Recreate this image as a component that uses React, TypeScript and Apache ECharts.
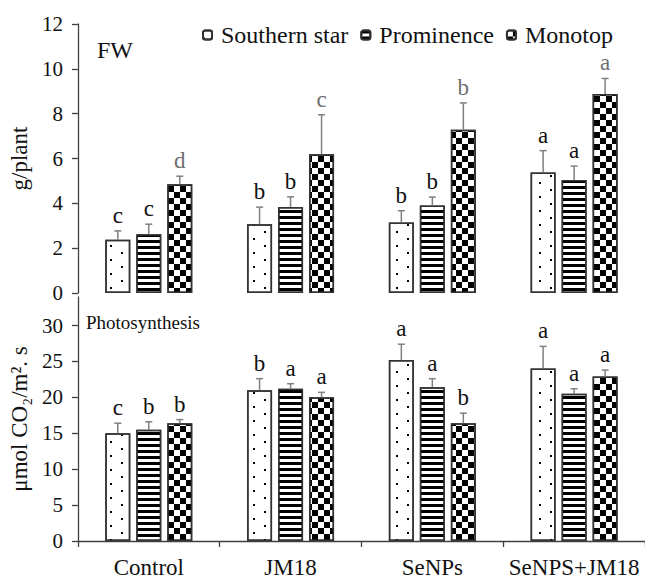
import React, { useEffect, useRef } from 'react';
import * as echarts from 'echarts';

const categories = ['Control', 'JM18', 'SeNPs', 'SeNPS+JM18'];
const varieties = ['Southern star', 'Prominence', 'Monotop'];

// FW (g/plant)
const fwSouthern = [2.38, 3.07, 3.14, 5.37];
const fwProminence = [2.62, 3.84, 3.9, 5.04];
const fwMonotop = [4.85, 6.19, 7.28, 8.88];
const fwSouthernErr = [0.39, 0.76, 0.53, 0.98];
const fwProminenceErr = [0.45, 0.45, 0.38, 0.62];
const fwMonotopErr = [0.36, 1.76, 1.2, 0.69];
const fwSouthernLetters = ['c', 'b', 'b', 'a'];
const fwProminenceLetters = ['c', 'b', 'b', 'a'];
const fwMonotopLetters = ['d', 'c', 'b', 'a'];

// Photosynthesis (µmol CO2/m2.s)
const psSouthern = [15.0, 21.0, 25.2, 24.0];
const psProminence = [15.5, 21.2, 21.4, 20.5];
const psMonotop = [16.4, 20.0, 16.4, 22.9];
const psSouthernErr = [1.4, 1.6, 2.2, 3.1];
const psProminenceErr = [1.1, 0.7, 1.2, 0.7];
const psMonotopErr = [0.5, 0.7, 1.4, 0.9];
const psSouthernLetters = ['c', 'b', 'a', 'a'];
const psProminenceLetters = ['b', 'a', 'a', 'a'];
const psMonotopLetters = ['b', 'a', 'b', 'a'];

const fwTicks = [0, 2, 4, 6, 8, 10, 12];
const psTicks = [0, 5, 10, 15, 20, 25, 30];

const FONT = 'Liberation Serif';
const AXIS_COLOR = '#404040';
const ERR_COLOR = '#808080';
const BAR_WIDTH = 25;
const BAR_GAP = 0.24;

const decals = [
  {
    symbol: 'rect',
    symbolSize: 1,
    color: '#000',
    dashArrayX: [[2, 20], [0, 11, 2, 9]],
    dashArrayY: [2, 5],
  },
  {
    symbol: 'rect',
    symbolSize: 1,
    color: '#000',
    dashArrayX: [8, 0],
    dashArrayY: [3, 3],
  },
  {
    symbol: 'rect',
    symbolSize: 1,
    color: '#000',
    dashArrayX: [[6, 6], [0, 6, 6, 0]],
    dashArrayY: [6, 0],
  },
];

type Panel = {
  values: number[][];
  errs: number[][];
  letters: string[][];
};

const panels: Panel[] = [
  {
    values: [fwSouthern, fwProminence, fwMonotop],
    errs: [fwSouthernErr, fwProminenceErr, fwMonotopErr],
    letters: [fwSouthernLetters, fwProminenceLetters, fwMonotopLetters],
  },
  {
    values: [psSouthern, psProminence, psMonotop],
    errs: [psSouthernErr, psProminenceErr, psMonotopErr],
    letters: [psSouthernLetters, psProminenceLetters, psMonotopLetters],
  },
];

function buildOption() {
  const series: any[] = [];
  panels.forEach((p, pi) => {
    varieties.forEach((name, vi) => {
      series.push({
        type: 'bar',
        name,
        xAxisIndex: pi,
        yAxisIndex: pi,
        data: p.values[vi],
        barWidth: BAR_WIDTH,
        barGap: `${BAR_GAP * 100}%`,
        itemStyle: {
          color: '#fff',
          borderColor: '#333',
          borderWidth: 1.5,
          decal: decals[vi],
        },
      });
    });
    const errData: number[][] = [];
    const errLabels: string[] = [];
    const errColors: string[] = [];
    varieties.forEach((_, vi) => {
      categories.forEach((_c, ci) => {
        errData.push([ci, p.values[vi][ci], p.errs[vi][ci], vi]);
        errLabels.push(p.letters[vi][ci]);
        errColors.push(pi === 0 && vi === 2 ? '#6f6f6f' : '#111');
      });
    });
    series.push({
      type: 'custom',
      xAxisIndex: pi,
      yAxisIndex: pi,
      z: 5,
      silent: true,
      data: errData,
      renderItem: (params: any, api: any) => {
        const ci = api.value(0);
        const v = api.value(1);
        const e = api.value(2);
        const vi = api.value(3);
        const base = api.coord([ci, v]);
        const top = api.coord([ci, v + e]);
        const step = BAR_WIDTH * (1 + BAR_GAP);
        const x = base[0] + (vi - 1) * step;
        return {
          type: 'group',
          children: [
            {
              type: 'line',
              shape: { x1: x, y1: base[1], x2: x, y2: top[1] },
              style: { stroke: ERR_COLOR, lineWidth: 1.5 },
            },
            {
              type: 'line',
              shape: { x1: x - 3.5, y1: top[1], x2: x + 3.5, y2: top[1] },
              style: { stroke: ERR_COLOR, lineWidth: 1.5 },
            },
            {
              type: 'text',
              x,
              y: top[1] - 4,
              style: {
                text: errLabels[params.dataIndex],
                align: 'center',
                verticalAlign: 'bottom',
                textAlign: 'center',
                textVerticalAlign: 'bottom',
                fontSize: 23,
                fontFamily: FONT,
                fill: errColors[params.dataIndex],
              },
            },
          ],
        };
      },
    });
  });

  const yAxisCommon = {
    nameLocation: 'middle',
    nameGap: 40,
    nameTextStyle: { fontFamily: FONT, fontSize: 23, color: '#111' },
    axisLine: { show: true, lineStyle: { color: AXIS_COLOR, width: 1.3 } },
    axisTick: { show: true, length: 6, lineStyle: { color: AXIS_COLOR, width: 1.3 } },
    splitLine: { show: false },
  };

  return {
    animation: false,
    backgroundColor: '#fff',
    textStyle: { fontFamily: FONT },
    legend: {
      left: 197,
      top: 18,
      itemWidth: 9,
      itemHeight: 9,
      itemGap: 12,
      data: varieties,
      textStyle: {
        fontFamily: FONT,
        fontSize: 24,
        color: '#111',
        padding: [0, 0, 0, 4],
      },
    },
    grid: [
      { left: 74, right: 0, top: 24, height: 269 },
      { left: 74, right: 0, top: 296.8, height: 245.5 },
    ],
    xAxis: [
      {
        gridIndex: 0,
        type: 'category',
        data: categories,
        axisLine: { show: false },
        axisTick: { show: false },
        axisLabel: { show: false },
      },
      {
        gridIndex: 1,
        type: 'category',
        data: categories,
        axisLine: { show: true, lineStyle: { color: AXIS_COLOR, width: 1.3 } },
        axisTick: { show: true, length: 6, lineStyle: { color: AXIS_COLOR, width: 1.3 } },
        axisLabel: { fontFamily: FONT, fontSize: 23, color: '#111', margin: 15, interval: 0 },
      },
    ],
    yAxis: [
      {
        ...yAxisCommon,
        gridIndex: 0,
        type: 'value',
        name: 'g/plant',
        min: 0,
        max: 12,
        interval: 2,
        axisLabel: { fontFamily: FONT, fontSize: 21, color: '#111', margin: 15, customValues: fwTicks },
      },
      {
        ...yAxisCommon,
        gridIndex: 1,
        type: 'value',
        name: 'μmol CO₂/m². s',
        min: 0,
        max: 34,
        interval: 5,
        axisTick: { ...yAxisCommon.axisTick, customValues: psTicks },
        axisLabel: { fontFamily: FONT, fontSize: 21, color: '#111', margin: 15, customValues: psTicks },
      },
    ],
    graphic: [
      {
        type: 'text',
        left: 97,
        top: 38,
        style: { text: 'FW', fontFamily: FONT, fontSize: 24, fill: '#111' },
      },
      {
        type: 'text',
        left: 86,
        top: 313,
        style: { text: 'Photosynthesis', fontFamily: FONT, fontSize: 19, fill: '#111' },
      },
    ],
    series,
  };
}

export default function App() {
  const ref = useRef<HTMLDivElement>(null);
  useEffect(() => {
    if (!ref.current) return;
    const chart = echarts.init(ref.current, undefined, { renderer: 'svg' });
    chart.setOption(buildOption() as any);
    return () => chart.dispose();
  }, []);
  return (
    <div
      ref={ref}
      style={{ position: 'absolute', left: 0, top: 0, width: 645, height: 579, background: '#fff' }}
    />
  );
}
